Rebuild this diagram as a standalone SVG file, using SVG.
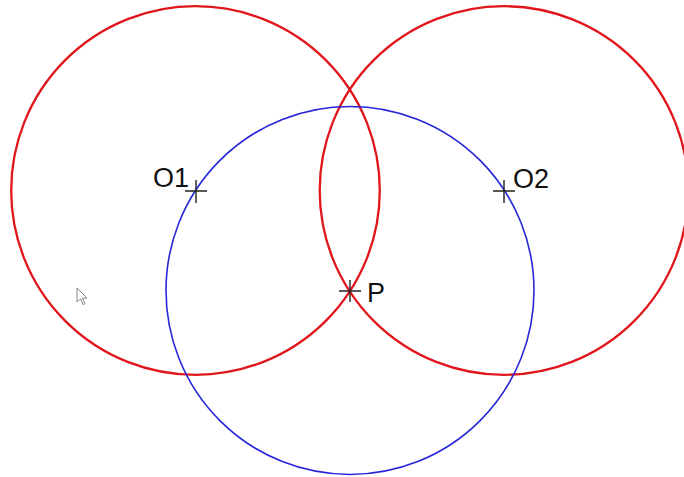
<svg xmlns="http://www.w3.org/2000/svg" width="684" height="477" viewBox="0 0 684 477">
<style>
.red{fill:none;stroke:#e0161c;stroke-width:2.3}
.blue{fill:none;stroke:#2626d8;stroke-width:1.6}
.cross{stroke:#222;stroke-width:1.4}
.lbl{font-family:"Liberation Sans",Arial,sans-serif;font-size:27px;fill:#111}
</style>
<rect width="684" height="477" fill="#fff"/>
<g id="connectors">
<circle id="c1" class="red" cx="195.5" cy="190.5" r="184.3"/>
<circle id="c2" class="red" cx="504" cy="190.5" r="184.3"/>
<circle id="c3" class="blue" cx="350" cy="290.5" r="184"/>
</g>
<g id="O1">
<path class="cross" d="M185 191H207M196 180V203"/>
<text class="lbl" x="153" y="187">O1</text>
</g>
<g id="O2">
<path class="cross" d="M493 191H515M504 180V203"/>
<text class="lbl" x="513" y="188">O2</text>
</g>
<g id="P">
<path class="cross" d="M339 291H361M350 280V302"/>
<text class="lbl" x="367" y="302">P</text>
</g>
<g id="cursor">
<path d="M77 288V302L80.5 299L83 304.5L85 303.5L82.5 298.3L87 298Z" fill="#fff" stroke="#777" stroke-width="0.9"/>
</g>
</svg>
